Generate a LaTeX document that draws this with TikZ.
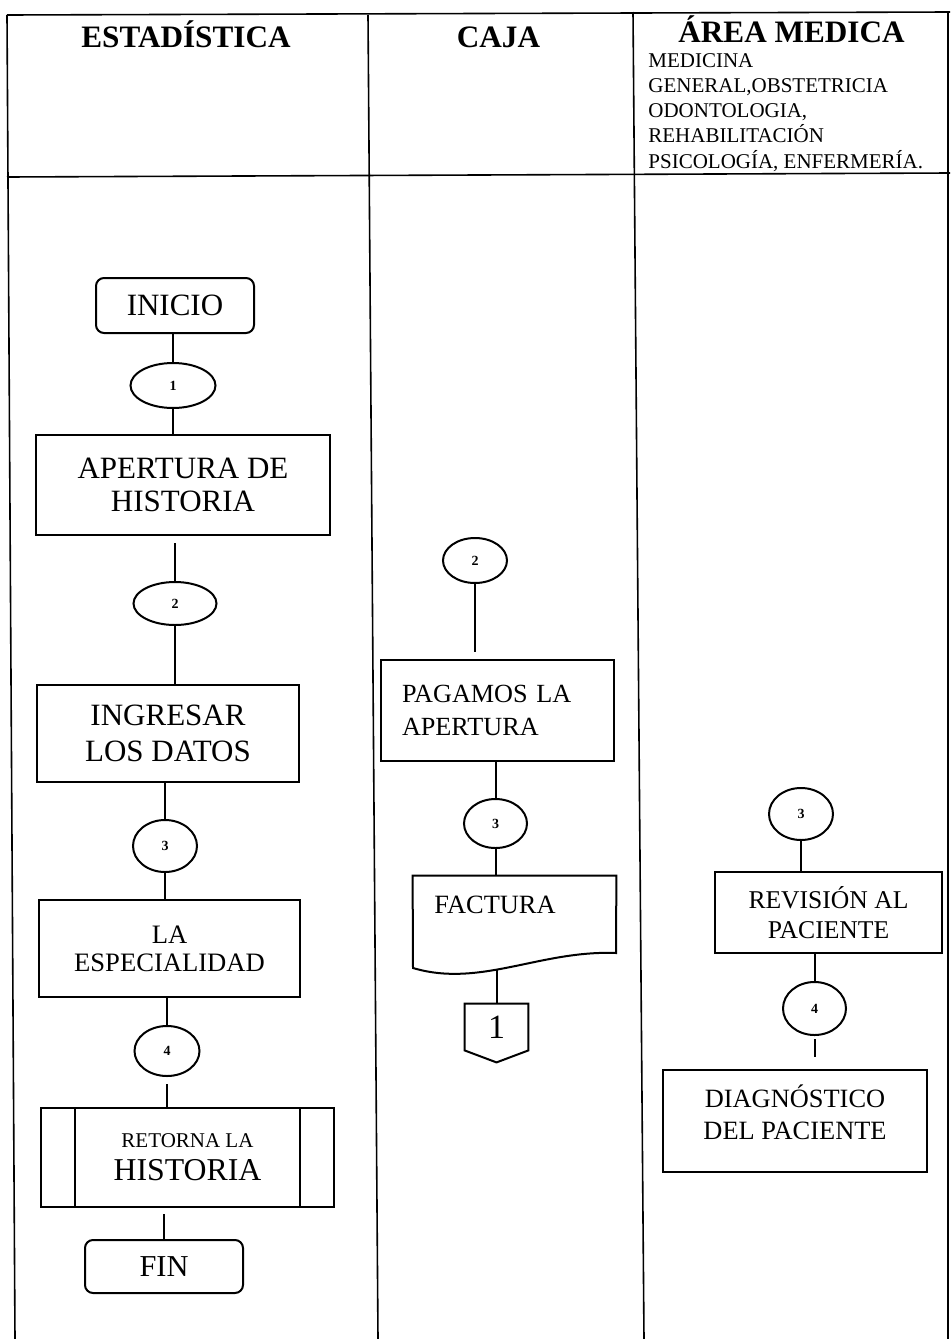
\documentclass[tikz,border=0pt]{standalone}
\usepackage{fontspec}
\setmainfont{Liberation Serif}
\usetikzlibrary{shapes.geometric}
\begin{document}
\begin{tikzpicture}[x=0.5pt,y=-0.5pt,
  tbl/.style={line width=0.8pt},
  flow/.style={line width=1pt},
  box/.style={draw,line width=1pt,inner sep=0pt,align=center},
  term/.style={box,rounded corners=4pt},
  conn/.style={draw,ellipse,line width=1pt,inner sep=0pt,font=\fontsize{7}{8}\selectfont\bfseries},
  hdr/.style={font=\fontsize{15.6}{18}\selectfont\bfseries,anchor=base,inner sep=0pt}
]
\useasboundingbox (0,0) rectangle (950,1339);
% table frame
\draw[tbl] (7,15) -- (950,12);
\draw[tbl] (7,177) -- (950,173);
\draw[tbl] (7,15) -- (15,1339);
\draw[tbl] (368,15) -- (378,1339);
\draw[tbl] (633,12) -- (644,1339);
\draw[tbl] (948,12) -- (948,1339);
% headers
\node[hdr] (h1) at (186,47) {ESTADÍSTICA};
\node[hdr] (h2) at (498.5,47) {CAJA};
\node[hdr] (h3) at (791.5,42) {ÁREA MEDICA};
\node[anchor=north west,inner sep=0pt,align=left,font=\fontsize{10.5}{12.6}\selectfont] (h3sub) at (648,53) {MEDICINA\\GENERAL,OBSTETRICIA\\ODONTOLOGIA,\\REHABILITACIÓN\\PSICOLOGÍA, ENFERMERÍA.};
% ESTADISTICA column
\node[term,minimum width=79pt,minimum height=27.5pt,font=\fontsize{15.5}{16}\selectfont] (ini) at (175,305.5) {INICIO};
\node[conn,minimum width=42.5pt,minimum height=22.5pt] (e1) at (173,385.5) {1};
\node[box,minimum width=147pt,minimum height=50pt,font=\fontsize{15.5}{16.5}\selectfont] (ape) at (183,485) {APERTURA DE\\HISTORIA};
\node[conn,minimum width=41.5pt,minimum height=21.5pt] (e2) at (175,603.5) {2};
\node[box,minimum width=131pt,minimum height=48.5pt,font=\fontsize{15.5}{18}\selectfont] (ing) at (168,733.5) {INGRESAR\\LOS DATOS};
\node[conn,minimum width=32pt,minimum height=26pt] (e3) at (165,846) {3};
\node[box,minimum width=130.5pt,minimum height=48.5pt,font=\fontsize{13.3}{14}\selectfont] (esp) at (169.5,948.5) {LA\\ESPECIALIDAD};
\node[conn,minimum width=32.5pt,minimum height=25pt] (e4) at (167,1051) {4};
\node[box,minimum width=146.5pt,minimum height=49.5pt,font=\fontsize{15.9}{16.5}\selectfont] (ret) at (187.5,1157.5) {{\fontsize{10.5}{12}\selectfont RETORNA LA}\\HISTORIA};
\draw[flow] ([xshift=17.5pt]ret.north west) -- ([xshift=17.5pt]ret.south west);
\draw[flow] ([xshift=-17.5pt]ret.north east) -- ([xshift=-17.5pt]ret.south east);
\node[term,minimum width=79pt,minimum height=26.5pt,font=\fontsize{15.2}{16}\selectfont] (fin) at (164,1266.5) {FIN};
\draw[flow] (ini.south -| e1) -- (e1.north);
\draw[flow] (e1.south) -- (e1.south |- ape.north);
\draw[flow,shorten <=3.5pt] (ape.south -| e2) -- (e2.north);
\draw[flow] (e2.south) -- (e2.south |- ing.north);
\draw[flow] (ing.south -| e3) -- (e3.north);
\draw[flow] (e3.south) -- (e3.south |- esp.north);
\draw[flow] (esp.south -| e4) -- (e4.north);
\draw[flow,shorten <=3.5pt] (e4.south) -- (e4.south |- ret.north);
\draw[flow,shorten <=3pt] (ret.south -| fin) -- (fin.north);
% CAJA column
\node[conn,minimum width=32pt,minimum height=22.5pt] (c2) at (475,560.5) {2};
\node[box,minimum width=116.5pt,minimum height=50.5pt,text width=95.5pt,align=left,inner xsep=10.5pt,font=\fontsize{13.1}{16.5}\selectfont] (pag) at (497.5,710.5) {PAGAMOS LA\\APERTURA};
\node[conn,minimum width=31.5pt,minimum height=24.5pt] (c3) at (495.5,823.5) {3};
\node[minimum width=101.5pt,minimum height=48.5pt,inner sep=0pt] (fac) at (514.5,924.5) {};
\draw[flow] (fac.north west) -- (fac.north east) -- (616,953) .. controls (540,950) and (480,988) .. (413,968) -- cycle;
\node[anchor=base west,inner sep=0pt,font=\fontsize{13.2}{15}\selectfont] (factxt) at (434,913) {FACTURA};
\node[minimum width=31.5pt,minimum height=23pt,inner sep=0pt,font=\fontsize{17}{18}\selectfont] (off) at (496.5,1027) {1};
\draw[flow] (off.north west) -- (off.north east) -- (off.south east) -- ([yshift=-6pt]off.south) -- (off.south west) -- cycle;
\draw[flow,shorten >=3.5pt] (c2.south) -- (c2.south |- pag.north);
\draw[flow] (pag.south -| c3) -- (c3.north);
\draw[flow] (c3.south) -- (c3.south |- fac.north);
\draw[flow] ([yshift=1.5pt]fac.south -| off) -- (off.north);
% AREA MEDICA column
\node[conn,minimum width=32pt,minimum height=26pt] (m3) at (801,814) {3};
\node[box,minimum width=113.5pt,minimum height=40.5pt,font=\fontsize{12.8}{15}\selectfont] (rev) at (828.5,912.5) {REVISIÓN AL\\PACIENTE};
\node[conn,minimum width=31.5pt,minimum height=26.5pt] (m4) at (814.5,1008.5) {4};
\node[box,minimum width=132pt,minimum height=51pt,font=\fontsize{13.2}{16}\selectfont] (dia) at (795,1121) {DIAGNÓSTICO\\DEL PACIENTE\\[-7pt]\mbox{}};
\draw[flow] (m3.south) -- (m3.south |- rev.north);
\draw[flow] (rev.south -| m4) -- (m4.north);
\draw[flow,shorten <=1.5pt,shorten >=6pt] (m4.south) -- (m4.south |- dia.north);
\end{tikzpicture}
\end{document}
